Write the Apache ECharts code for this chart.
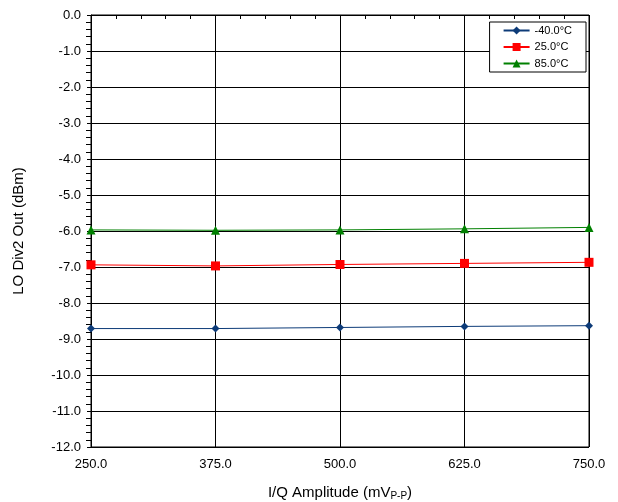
<!DOCTYPE html>
<html><head><meta charset="utf-8">
<script src="https://cdn.jsdelivr.net/npm/echarts@6/dist/echarts.min.js"></script>
<style>html,body{margin:0;padding:0;background:#fff}#c{width:618px;height:502px}</style>
</head><body><div id="c"></div>
<script>
const xValues = [250, 375, 500, 625, 750];
const seriesNames = ['-40.0°C', '25.0°C', '85.0°C'];
const tM40 = [-8.71, -8.71, -8.68, -8.65, -8.63];
const t25 = [-6.94, -6.97, -6.93, -6.90, -6.87];
const t85 = [-5.97, -5.98, -5.97, -5.94, -5.90];
const colors = ['#0D3B78', '#FF0000', '#008000'];
const symbols = ['diamond', 'rect', 'triangle'];
const sizes = [8, 9, 9];
const all = [tM40, t25, t85];

const chart = echarts.init(document.getElementById('c'));
const font = 'Liberation Sans, Arial, sans-serif';
chart.setOption({
  animation: false,
  textStyle: {fontFamily: font},
  grid: {left: 91, right: 29, top: 15, bottom: 55, show: true, borderColor: '#000', borderWidth: 1, outerBoundsMode: 'none', containLabel: false},
  legend: {
    orient: 'vertical', right: 32, top: 22, backgroundColor: '#fff', borderColor: '#000', borderWidth: 1,
    padding: [3, 14, 3, 13], itemGap: 5.5, itemWidth: 26, itemHeight: 10,
    textStyle: {fontSize: 11, color: '#000', fontFamily: font},
    data: seriesNames
  },
  xAxis: {
    type: 'value', min: 250, max: 750, interval: 125,
    axisLine: {lineStyle: {color: '#000'}},
    axisTick: {show: true, inside: false, length: 3, lineStyle: {color: '#000'}},
    minorTick: {show: true, splitNumber: 5, length: 4, lineStyle: {color: '#000'}},
    axisLabel: {fontSize: 13, color: '#000', margin: 11, formatter: v => v.toFixed(1)},
    splitLine: {show: true, lineStyle: {color: '#000', width: 1}},
    name: '{a|I/Q Amplitude (mV}{b|P-P}{a|)}', nameLocation: 'middle', nameGap: 37,
    nameTextStyle: {rich: {a: {fontSize: 15, color: '#000', fontFamily: font}, b: {fontSize: 10, color: '#000', fontFamily: font, padding: [7, 0, 0, 0]}}}
  },
  yAxis: {
    type: 'value', min: -12, max: 0, interval: 1,
    axisLine: {lineStyle: {color: '#000'}},
    axisTick: {show: true, inside: false, length: 4, lineStyle: {color: '#000'}},
    minorTick: {show: true, splitNumber: 5, length: 5, lineStyle: {color: '#000'}},
    axisLabel: {fontSize: 13, color: '#000', margin: 10, formatter: v => v.toFixed(1)},
    splitLine: {show: true, lineStyle: {color: '#000', width: 1}},
    name: 'LO Div2 Out (dBm)', nameLocation: 'middle', nameGap: 65,
    nameTextStyle: {fontSize: 15, color: '#000', fontFamily: font}
  },
  series: all.map((d, i) => ({
    name: seriesNames[i], type: 'line', data: xValues.map((x, j) => [x, d[j]]),
    symbol: symbols[i], symbolSize: sizes[i], showSymbol: true,
    lineStyle: {color: colors[i], width: 1}, itemStyle: {color: colors[i]}, z: 5
  }))
});
</script></body></html>
